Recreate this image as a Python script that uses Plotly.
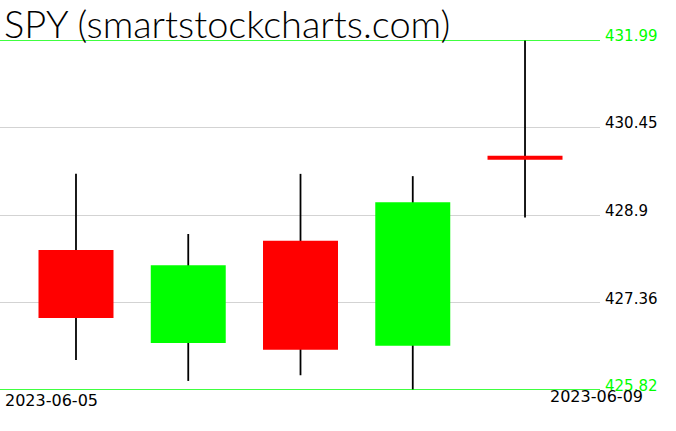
import plotly.graph_objects as go

# ---- data ----
dates = ["2023-06-05", "2023-06-06", "2023-06-07", "2023-06-08", "2023-06-09"]
opens = [428.29, 426.65, 428.45, 426.60, 429.95]
highs = [429.63, 428.57, 429.63, 429.59, 431.99]
lows = [426.35, 425.98, 426.08, 425.82, 428.86]
closes = [427.09, 428.02, 426.53, 429.13, 429.88]
tick_vals = [425.82, 427.36, 428.90, 430.45, 431.99]
tick_text = ["425.82", "427.36", "428.9", "430.45", "431.99"]
title_text = "SPY (smartstockcharts.com)"
date_labels = [dates[0], dates[-1]]

GREEN = "#00ff00"
RED = "#ff0000"

fig = go.Figure()

# wicks
fig.add_trace(go.Bar(
    x=dates,
    base=lows,
    y=[h - l for h, l in zip(highs, lows)],
    width=0.016,
    marker=dict(color="black", line=dict(width=0)),
    hoverinfo="skip",
    showlegend=False,
))

# bodies
fig.add_trace(go.Bar(
    x=dates,
    base=[min(o, c) for o, c in zip(opens, closes)],
    y=[abs(c - o) for o, c in zip(opens, closes)],
    width=0.668,
    marker=dict(color=[GREEN if c >= o else RED for o, c in zip(opens, closes)],
                line=dict(width=0)),
    hoverinfo="skip",
    showlegend=False,
))

# green boundary lines at axis min / max
for v in (tick_vals[0], tick_vals[-1]):
    fig.add_shape(type="line", xref="paper", x0=0, x1=1, yref="y", y0=v, y1=v,
                  line=dict(color=GREEN, width=1.5), layer="above")

annotations = []
for i, (v, t) in enumerate(zip(tick_vals, tick_text)):
    col = GREEN if i in (0, len(tick_vals) - 1) else "black"
    annotations.append(dict(
        x=1, xref="paper", y=v, yref="y", text=t, showarrow=False,
        xanchor="left", yanchor="bottom", xshift=3, yshift=-7,
        font=dict(family="DejaVu Sans", size=15, color=col),
    ))

annotations.append(dict(
    x=0, xref="paper", y=1, yref="paper", text=title_text, showarrow=False,
    xanchor="left", yanchor="bottom", xshift=2, yshift=-8,
    font=dict(family="Lato", size=38, color="black", weight=300),
))
annotations.append(dict(
    x=0, xref="paper", y=0, yref="paper", text=date_labels[0], showarrow=False,
    xanchor="left", yanchor="top", xshift=3, yshift=1,
    font=dict(family="DejaVu Sans", size=16, color="black"),
))
annotations.append(dict(
    x=1.075, xref="paper", y=0, yref="paper", text=date_labels[1], showarrow=False,
    xanchor="right", yanchor="top", xshift=0, yshift=5,
    font=dict(family="DejaVu Sans", size=16, color="black"),
))

fig.update_layout(
    width=676, height=431,
    margin=dict(l=0, r=76, t=40, b=41),
    paper_bgcolor="white", plot_bgcolor="white",
    barmode="overlay",
    showlegend=False,
    annotations=annotations,
    xaxis=dict(type="category", range=[-0.677, 4.668], showgrid=False,
               zeroline=False, showticklabels=False, ticks="", showline=False,
               fixedrange=True),
    yaxis=dict(range=[tick_vals[0], tick_vals[-1]], tickvals=tick_vals[1:-1],
               showgrid=True, gridcolor="#d3d3d3", gridwidth=1,
               zeroline=False, showticklabels=False, ticks="", showline=False,
               side="right", fixedrange=True),
)

fig.write_html("out.html", config={"displayModeBar": False, "staticPlot": True},
               post_script="document.body.style.margin='0';document.body.style.overflow='hidden';")
